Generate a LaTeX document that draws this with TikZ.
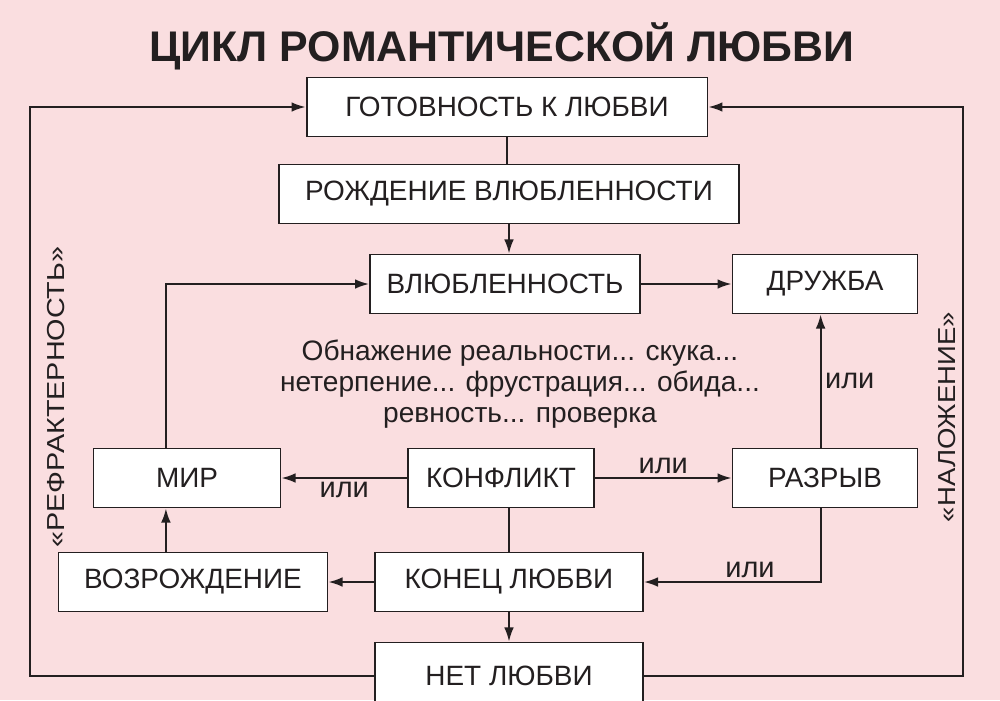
\documentclass[tikz,border=0pt]{standalone}
\usepackage{fontspec}
\setmainfont{Liberation Sans}
\usepackage{tikz}
\usetikzlibrary{arrows.meta}
\definecolor{bgpink}{RGB}{250,222,224}
\definecolor{ink}{RGB}{35,31,32}

\tikzset{
    box/.style={draw=ink, fill=white, line width=1.1pt, inner sep=0pt, minimum height=1.18cm,
        font=\fontsize{15.9}{19}\selectfont, text=ink},
    line/.style={draw=ink, line width=1.1pt},
    arr/.style={line, -{Latex[length=8pt,width=5.5pt]}},
    ili/.style={font=\fontsize{16.5}{19}\selectfont, text=ink, inner sep=2pt},
    side/.style={font=\fontsize{14}{16}\selectfont, text=ink, rotate=90}
}

\begin{document}
\begin{tikzpicture}[x=0.02cm, y=-0.02cm]

        \fill[bgpink] (0,0) rectangle (1000,700);
        \useasboundingbox (0,0) rectangle (1000,700);

        \node[font=\bfseries\fontsize{24.4}{28}\selectfont, text=ink] (title) at (502,46) {ЦИКЛ РОМАНТИЧЕСКОЙ ЛЮБВИ};

        \node[box, minimum width=8.02cm] (got) at (507,107) {ГОТОВНОСТЬ К ЛЮБВИ};
        \node[box, minimum width=9.22cm] (rozh) at (509,194) {РОЖДЕНИЕ ВЛЮБЛЕННОСТИ};
        \node[box, minimum width=5.4cm] (vlub) at (505,284) {ВЛЮБЛЕННОСТЬ};
        \node[box, minimum width=3.7cm] (druzh) at (825,284) {ДРУЖБА};
        \node[box, minimum width=3.74cm] (mir) at (187,478) {МИР};
        \node[box, minimum width=3.72cm] (konf) at (501,478) {КОНФЛИКТ};
        \node[box, minimum width=3.7cm] (razr) at (825,478) {РАЗРЫВ};
        \node[box, minimum width=5.38cm] (vozr) at (193,582) {ВОЗРОЖДЕНИЕ};
        \node[box, minimum width=5.36cm] (konec) at (509,582) {КОНЕЦ ЛЮБВИ};
        \node[box, minimum width=5.36cm, minimum height=1.34cm] (net) at (509,676) {НЕТ ЛЮБВИ};

        \node[align=center, font=\fontsize{16}{17.6}\selectfont, text=ink] (reality) at (520,384)
            {Обнажение реальности... скука...\\нетерпение... фрустрация... обида...\\ревность... проверка};

        \node[side] (refr) at (56,397) {\scalebox{1.17}[1]{«РЕФРАКТЕРНОСТЬ»}};
        \node[side] (nalozh) at (947,417) {\scalebox{1.12}[1]{«НАЛОЖЕНИЕ»}};

        \draw[line] (got.south) -- (got.south |- rozh.north);
        \draw[arr] (rozh.south) -- (rozh.south |- vlub.north);
        \draw[arr] (vlub) -- (druzh);
        \draw[arr] ([xshift=-12pt]mir.north) |- (vlub.west);
        \draw[arr] (konf) -- node[ili, below] {или} (mir);
        \draw[arr] (konf) -- node[ili, above] {или} (razr);
        \draw[arr] ([xshift=-2.5pt]razr.north) -- node[ili, right] {или} ([xshift=-2.5pt]druzh.south);
        \draw[arr] ([xshift=-2.5pt]razr.south) |- node[ili, above, pos=0.7] {или} (konec.east);
        \draw[line] (konec.north |- konf.south) -- (konec.north);
        \draw[arr] (konec) -- (vozr);
        \draw[arr] ([xshift=-12pt]mir.south |- vozr.north) -- ([xshift=-12pt]mir.south);
        \draw[arr] (konec) -- (net);
        \draw[arr] (net.west) -- ++(-344,0) |- (got.west);
        \draw[arr] (net.east) -- ++(319,0) |- (got.east);

\end{tikzpicture}
\end{document}
